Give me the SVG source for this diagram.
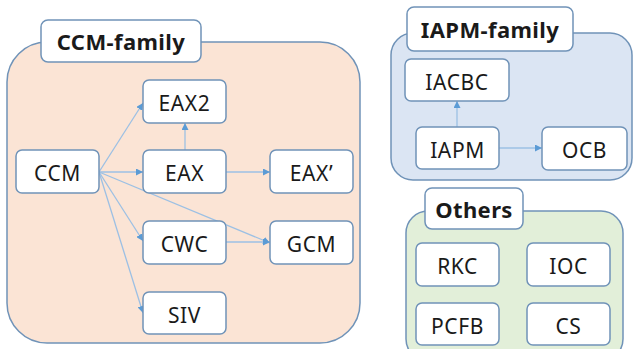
<svg xmlns="http://www.w3.org/2000/svg" width="634" height="349" viewBox="0 0 634 349">
  <style>
    .grp { stroke: #7093b8; stroke-width: 1.5; }
    .node rect { fill: #ffffff; stroke: #7093b8; stroke-width: 1.5; }
    .node text { font-family: "Noto Sans", "Open Sans", sans-serif; font-size: 21px; letter-spacing: 0.6px; fill: #1a1a1a; text-anchor: middle; dominant-baseline: central; }
    .title text { font-weight: bold; font-size: 22px; letter-spacing: 0.4px; }
    .edge { stroke: #9cc0e4; stroke-width: 1.3; fill: none; marker-end: url(#arrow); }
  </style>
  <defs>
    <marker id="arrow" viewBox="0 0 10 10" refX="10" refY="5" markerWidth="7" markerHeight="7" markerUnits="userSpaceOnUse" orient="auto">
      <path d="M0,0 L10,5 L0,10 z" fill="#5b9bd5"/>
    </marker>
  </defs>

  <!-- group containers -->
  <rect class="grp" x="7" y="42" width="353" height="301" rx="40" fill="#fbe4d5"/>
  <rect class="grp" x="391" y="33" width="241" height="147" rx="22" fill="#dbe5f3"/>
  <rect class="grp" x="406" y="211" width="217" height="150" rx="22" fill="#e2efd9"/>

  <!-- connectors -->
  <g id="edges">
    <line class="edge" x1="99" y1="172" x2="143" y2="103"/>
    <line class="edge" x1="99" y1="172" x2="143" y2="172"/>
    <line class="edge" x1="99" y1="172" x2="143" y2="241"/>
    <line class="edge" x1="99" y1="172" x2="143" y2="313"/>
    <line class="edge" x1="99" y1="172" x2="270" y2="243"/>
    <line class="edge" x1="185" y1="150" x2="185" y2="123"/>
    <line class="edge" x1="226" y1="172" x2="270" y2="172"/>
    <line class="edge" x1="226" y1="242" x2="270" y2="242"/>
    <line class="edge" x1="457" y1="127" x2="457" y2="101"/>
    <line class="edge" x1="499" y1="148" x2="542" y2="148"/>
  </g>

  <!-- group titles -->
  <g id="title-ccm" class="node title"><rect x="41" y="20" width="160" height="42" rx="7"/><text x="121" y="41">CCM-family</text></g>
  <g id="title-iapm" class="node title"><rect x="407" y="7" width="166" height="44" rx="7"/><text x="490" y="29">IAPM-family</text></g>
  <g id="title-others" class="node title"><rect x="425" y="188" width="98" height="41" rx="7"/><text x="474" y="209">Others</text></g>

  <!-- CCM family -->
  <g id="CCM" class="node"><rect x="16" y="150" width="83" height="43" rx="6"/><text x="57.5" y="173">CCM</text></g>
  <g id="EAX2" class="node"><rect x="143" y="80" width="83" height="43" rx="6"/><text x="184.5" y="103">EAX2</text></g>
  <g id="EAX" class="node"><rect x="143" y="150" width="83" height="43" rx="6"/><text x="184.5" y="173">EAX</text></g>
  <g id="EAXp" class="node"><rect x="270" y="150" width="83" height="43" rx="6"/><text x="311.5" y="173">EAX’</text></g>
  <g id="CWC" class="node"><rect x="143" y="221" width="83" height="43" rx="6"/><text x="184.5" y="244">CWC</text></g>
  <g id="GCM" class="node"><rect x="270" y="221" width="83" height="43" rx="6"/><text x="311.5" y="244">GCM</text></g>
  <g id="SIV" class="node"><rect x="143" y="292" width="83" height="42" rx="6"/><text x="184.5" y="314.5">SIV</text></g>

  <!-- IAPM family -->
  <g id="IACBC" class="node"><rect x="405" y="59" width="104" height="42" rx="6"/><text x="457" y="81.5">IACBC</text></g>
  <g id="IAPM" class="node"><rect x="416" y="127" width="83" height="42" rx="6"/><text x="457.5" y="149.5">IAPM</text></g>
  <g id="OCB" class="node"><rect x="542" y="127" width="85" height="43" rx="6"/><text x="584.5" y="150">OCB</text></g>

  <!-- Others -->
  <g id="RKC" class="node"><rect x="416" y="243" width="83" height="43" rx="6"/><text x="457.5" y="266">RKC</text></g>
  <g id="IOC" class="node"><rect x="527" y="243" width="83" height="43" rx="6"/><text x="568.5" y="266">IOC</text></g>
  <g id="PCFB" class="node"><rect x="416" y="303" width="83" height="42" rx="6"/><text x="457.5" y="325.5">PCFB</text></g>
  <g id="CS" class="node"><rect x="527" y="303" width="83" height="42" rx="6"/><text x="568.5" y="325.5">CS</text></g>
</svg>
